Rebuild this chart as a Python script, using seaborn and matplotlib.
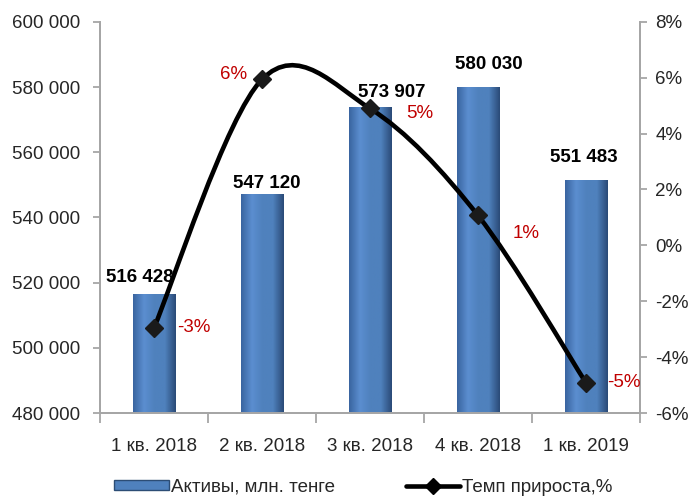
import numpy as np
import pandas as pd
import seaborn as sns
import matplotlib.pyplot as plt
from matplotlib.path import Path
from matplotlib.patches import PathPatch, Patch
from matplotlib.lines import Line2D
from matplotlib.colors import LinearSegmentedColormap
from matplotlib.ticker import FuncFormatter, MultipleLocator, FixedLocator

# dados
quarters = ["1 кв. 2018", "2 кв. 2018", "3 кв. 2018", "4 кв. 2018", "1 кв. 2019"]
assets = [516428, 547120, 573907, 580030, 551483]
growth = [-2.95, 5.94, 4.90, 1.07, -4.92]
growth_labels = ["-3%", "6%", "5%", "1%", "-5%"]

sns.set_style("white")
plt.rcParams['font.family'] = ['Liberation Sans', 'DejaVu Sans']
FS = 13.5
PX = 0.72  # 1 pixel em pontos (dpi 100)

fig = plt.figure(figsize=(6.91, 4.97), dpi=100)
ax = fig.add_axes([0.1447, 0.169, 0.7815, 0.787])

df = pd.DataFrame({"quarter": quarters, "assets": assets})
sns.barplot(data=df, x="quarter", y="assets", color="#4F81BD", width=0.39,
            edgecolor="#2C4D75", linewidth=0.6, saturation=1, ax=ax)

# sombreamento horizontal dentro das barras (efeito bisel)
grad = np.linspace(0, 1, 64).reshape(1, -1)
cm = LinearSegmentedColormap.from_list("bev", ["#3A65A0", "#5B8ED0", "#4F81BD", "#4F81BD", "#2B4B78"])
for p in ax.patches:
    x0, y0 = p.get_x(), p.get_y()
    w, h = p.get_width(), p.get_height()
    im = ax.imshow(grad, cmap=cm, aspect="auto", extent=[x0, x0 + w, 480000, y0 + h],
                   zorder=p.get_zorder() + 0.1)
    im.set_clip_path(p)

ax.set_xlim(-0.5, 4.5)
ax.set_ylim(480000, 600000)
ax.yaxis.set_major_locator(MultipleLocator(20000))
ax.yaxis.set_major_formatter(FuncFormatter(lambda v, _: f"{int(v):,}".replace(",", " ")))
ax.set_xlabel("")
ax.set_ylabel("")

# rótulos dos valores (deslocamento em pixels)
bar_offsets = [(-14, 17), (5, 11), (22, 14), (11, 22), (-2, 23)]
for i, v in enumerate(assets):
    dx, dy = bar_offsets[i]
    ax.annotate(f"{v:,}".replace(",", " "), (i, v), xytext=(dx * PX, dy * PX),
                textcoords="offset points", ha="center", va="center",
                fontsize=FS, fontweight="bold", color="black", zorder=8)

# eixo secundário com a taxa de crescimento
ax2 = ax.twinx()
ax2.set_ylim(-6, 8)
ax2.yaxis.set_major_locator(MultipleLocator(2))
ax2.yaxis.set_major_formatter(FuncFormatter(lambda v, _: f"{int(round(v))}%"))

# linha suavizada (estilo Excel, Catmull-Rom)
xs = np.arange(len(growth), dtype=float)
pts = np.column_stack([xs, growth])
verts = [pts[0]]
codes = [Path.MOVETO]
for i in range(len(pts) - 1):
    p0 = pts[i - 1] if i > 0 else pts[i]
    p3 = pts[i + 2] if i + 2 < len(pts) else pts[i + 1]
    c1 = pts[i] + (pts[i + 1] - p0) / 6
    c2 = pts[i + 1] - (p3 - pts[i]) / 6
    verts += [c1, c2, pts[i + 1]]
    codes += [Path.CURVE4] * 3
ax2.add_patch(PathPatch(Path(verts, codes), facecolor="none", edgecolor="black",
                        lw=3.3, zorder=5, capstyle="round"))
ax2.plot(xs, growth, linestyle="none", marker="D", markersize=9, color="#1a1a1a", zorder=6)

pct_offsets = [(23, 0, "left"), (-28, 5, "center"), (50, -5, "center"),
               (48, -18, "center"), (38, 0, "center")]
for i, (dx, dy, ha) in enumerate(pct_offsets):
    ax2.annotate(growth_labels[i], (i, growth[i]), xytext=(dx * PX, dy * PX),
                 textcoords="offset points", ha=ha, va="center",
                 fontsize=FS, color="#C00000", zorder=7)

# eixos e marcas
for a in (ax, ax2):
    for s in a.spines.values():
        s.set_color("#A6A6A6")
        s.set_linewidth(1.3)
    a.spines["top"].set_visible(False)
ax.tick_params(axis="y", direction="out", length=5, width=1.3, color="#A6A6A6",
               labelsize=FS, left=True, pad=9)
ax2.tick_params(axis="y", direction="out", length=5, width=1.3, color="#A6A6A6",
                labelsize=FS, right=True, pad=6)
ax.tick_params(axis="x", which="major", length=0, labelsize=FS, pad=18)
ax.xaxis.set_minor_locator(FixedLocator([-0.5, 0.5, 1.5, 2.5, 3.5, 4.5]))
ax.tick_params(axis="x", which="minor", direction="out", length=7, width=1.3,
               color="#A6A6A6", bottom=True)

handles = [Patch(facecolor="#4F81BD", edgecolor="#2C4D75", label="Активы, млн. тенге"),
           Line2D([0], [0], color="black", lw=3.3, marker="D", markersize=8,
                  label="Темп прироста,%")]
fig.legend(handles=handles, loc="center", bbox_to_anchor=(0.526, 0.02), ncol=2,
           frameon=False, fontsize=FS, handlelength=2.9, handleheight=0.5,
           handletextpad=0.1, columnspacing=3.8)

fig.savefig("out.png", dpi=100)
